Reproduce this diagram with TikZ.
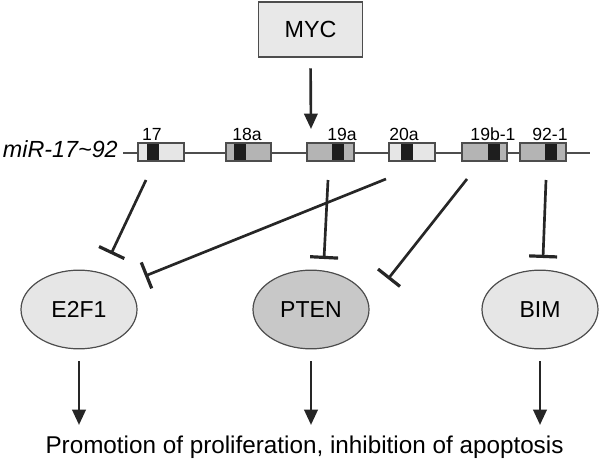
\documentclass[tikz,border=0pt]{standalone}
\usepackage{fontspec}
\setmainfont{Liberation Sans}
\usetikzlibrary{arrows.meta,shapes.geometric}
\definecolor{ink}{HTML}{262626}
\definecolor{rim}{HTML}{4D4D4D}
\definecolor{boxfill}{HTML}{E8E8E8}
\definecolor{genelight}{HTML}{E6E6E6}
\definecolor{genemid}{HTML}{B4B4B4}
\definecolor{band}{HTML}{1E1E1E}
\definecolor{ptenfill}{HTML}{C8C8C8}
\tikzset{
  inhib/.style={line width=2pt, draw=ink, -{Bar[width=21pt,line width=0pt 1.2]}},
  act/.style={line width=2pt, draw=ink, -{Triangle[width=10pt,length=11.5pt]}},
  target/.style={ellipse, draw=rim, line width=0.9pt, minimum width=87pt,
    minimum height=59pt, inner sep=0pt, font=\fontsize{17.3}{20}\selectfont},
  mirlabel/.style={font=\fontsize{13.2}{15}\selectfont, anchor=base}
}
% one hairpin: left, right, band start, fill, label, label x, name
\newcommand\hairpin[7]{%
  \fill[#4] (#1,143) rectangle (#2,161);
  \fill[band] (#3,143) rectangle ({#3+12},161);
  \draw[rim, line width=0.8pt] (#1,143) rectangle (#2,161);
  \node[mirlabel] (#7) at (#6,141) {#5};
}
\begin{document}
\begin{tikzpicture}[x=0.75pt,y=-0.75pt]
  \useasboundingbox (0,0) rectangle (600,460);
  \node[draw=rim, line width=1.3pt, fill=boxfill, minimum width=78pt,
    minimum height=41pt, font=\fontsize{17.5}{20}\selectfont] (myc) at (310.5,29.5) {MYC};

  % cluster
  \draw[rim, line width=0.8pt] (123,153) -- (590,153);
  \node[anchor=base east, inner sep=0pt, font=\itshape\fontsize{17.5}{20}\selectfont] (cluster)
    at (118,157.5) {miR-17\textasciitilde 92};
  \hairpin{138}{184}{147}{genelight}{17}{152}{m17}
  \hairpin{226}{271}{234}{genemid}{18a}{247}{m18a}
  \hairpin{307}{354}{332}{genemid}{19a}{342}{m19a}
  \hairpin{389}{435}{401}{genelight}{20a}{404}{m20a}
  \hairpin{462}{507}{488}{genemid}{19b-1}{493}{m19b}
  \hairpin{520}{566}{545}{genemid}{92-1}{550}{m92}
  \coordinate (entry) at (311,129);
  \draw[act, shorten <=8pt] (myc.south) -- (entry);

  % targets
  \node[target, fill=genelight] (e2f1) at (79,309.5) {E2F1};
  \node[target, fill=ptenfill] (pten) at (311,309.5) {PTEN};
  \node[target, fill=genelight] (bim) at (540,309.5) {BIM};

  \coordinate (s17) at (146,180);
  \coordinate (s19a) at (328,180);
  \coordinate (s20a) at (386,179);
  \coordinate (s19b) at (467,179);
  \coordinate (s92) at (546,180);
  \coordinate (t17) at (111,254);
  \coordinate (t20a) at (145,276);
  \coordinate (t19a) at (324,259);
  \coordinate (t19b) at (388,279);
  \coordinate (t92) at (543,258);
  \draw[inhib] (s17) -- (t17);
  \draw[inhib] (s20a) -- (t20a);
  \draw[inhib] (s19a) -- (t19a);
  \draw[inhib] (s19b) -- (t19b);
  \draw[inhib] (s92) -- (t92);

  % outcome
  \node[anchor=base, font=\fontsize{18.2}{22}\selectfont] (outcome) at (304.5,453)
    {Promotion of proliferation, inhibition of apoptosis};
  \foreach \t in {e2f1,pten,bim}
    \draw[act, shorten <=9pt] (\t.south) -- (\t.south |- 0,425);
\end{tikzpicture}
\end{document}
